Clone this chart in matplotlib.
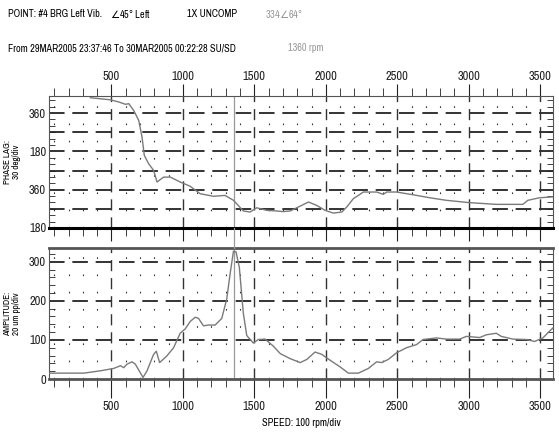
import numpy as np
import matplotlib.pyplot as plt
from matplotlib.ticker import MultipleLocator, FixedLocator

plt.rcParams['font.family'] = ['Archivo Narrow', 'Liberation Sans', 'DejaVu Sans']

# Phase lag (unwrapped deg, axis labels wrap 180/360)
phase_rpm = [353, 493, 551, 598, 621, 656, 691, 714, 730, 760, 795, 819, 865, 912, 981,
             1051, 1121, 1214, 1295, 1354, 1423, 1470, 1516, 1586, 1656, 1700, 1751, 1809,
             1879, 1937, 1995, 2053, 2112, 2147, 2193, 2228, 2262, 2356, 2402, 2426, 2495,
             2611, 2728, 2844, 3007, 3193, 3379, 3414, 3495, 3588]
phase_deg = [792, 782, 772, 761, 764, 732, 685, 607, 521, 482, 451, 396, 419, 419, 396,
             376, 341, 329, 333, 310, 260, 255, 275, 263, 260, 257, 260, 279,
             302, 286, 263, 250, 255, 279, 318, 333, 349, 349, 338, 349, 349,
             336, 322, 310, 299, 291, 291, 310, 322, 326]

# Amplitude (um pp)
amp_rpm = [67, 307, 423, 516, 563, 586, 609, 644, 667, 721, 749, 795, 814, 837, 888, 935,
           981, 1016, 1051, 1086, 1109, 1144, 1179, 1226, 1272, 1307, 1330, 1354, 1372,
           1395, 1423, 1447, 1493, 1528, 1575, 1633, 1681, 1751, 1821, 1867, 1925, 1972,
           2030, 2100, 2158, 2228, 2298, 2356, 2391, 2437, 2495, 2565, 2635, 2681, 2775,
           2844, 2937, 2984, 3077, 3123, 3193, 3228, 3310, 3403, 3461, 3519, 3565, 3600]
amp_val = [15, 15, 21, 27, 34, 29, 38, 44, 38, 4, 21, 63, 71, 42, 59, 80,
           117, 128, 147, 158, 155, 136, 138, 138, 155, 205, 268, 327, 325,
           285, 168, 111, 92, 101, 102, 84, 65, 52, 42, 50, 69, 63,
           48, 31, 15, 15, 27, 44, 42, 50, 67, 80, 88, 101, 105,
           102, 102, 109, 106, 113, 117, 109, 102, 101, 96, 105, 122, 134]

cursor_rpm = 1360
phase_ticks = [180, 360, 540, 720]
phase_labels = ['180', '360', '180', '360']
x_ticks = [500, 1000, 1500, 2000, 2500, 3000, 3500]

fig = plt.figure(figsize=(5.59, 4.34), dpi=100)
W, H = 559, 434
left, right = 49 / W, 553 / W
ax1 = fig.add_axes([left, 1 - 228 / H, right - left, (228 - 96) / H])
ax2 = fig.add_axes([left, 1 - 379 / H, right - left, (379 - 248) / H])

xlim = (63, 3590)
line_col = '#7a7a7a'

for ax in (ax1, ax2):
    ax.set_xlim(*xlim)
    ax.xaxis.set_major_locator(FixedLocator(x_ticks))
    ax.xaxis.set_minor_locator(MultipleLocator(100))
    for x in range(100, 3600, 100):
        if x % 500 == 0:
            ax.axvline(x, color='#333333', lw=1.0, ls=(0, (8, 5)), zorder=1)
        else:
            ax.axvline(x, color='#333333', lw=0.8, ls=(0, (1.5, 14)), zorder=1)
    ax.tick_params(axis='both', which='both', labelsize=9, colors='#222222')
    ax.tick_params(axis='y', which='both', direction='in', right=True, length=4)
    ax.tick_params(axis='y', which='major', length=0, pad=2)
    ax.axvline(cursor_rpm, color='#999999', lw=0.9, zorder=2)
    for s in ax.spines.values():
        s.set_color('#555555')

# phase panel
ax1.set_ylim(180, 800)
ax1.yaxis.set_major_locator(FixedLocator(phase_ticks))
ax1.set_yticklabels(phase_labels)
ax1.yaxis.set_minor_locator(MultipleLocator(30))
for y in range(270, 800, 90):
    ax1.axhline(y, color='#333333', lw=1.4, ls=(0, (8, 4)), zorder=1)
ax1.plot(phase_rpm, phase_deg, color=line_col, lw=1.0, zorder=3)
ax1.tick_params(axis='x', which='both', top=True, bottom=True, labeltop=True,
                labelbottom=False, direction='out')
ax1.tick_params(axis='x', which='major', length=9, pad=1)
ax1.tick_params(axis='x', which='minor', length=6)
ax1.spines['bottom'].set_linewidth(2.2)
ax1.spines['bottom'].set_color('black')
ax1.set_ylabel('PHASE LAG:\n30 deg/div', fontsize=6.5, fontweight='bold',
               linespacing=0.9, labelpad=6)

# amplitude panel
ax2.set_ylim(0, 335)
ax2.yaxis.set_major_locator(FixedLocator([0, 100, 200, 300]))
ax2.yaxis.set_minor_locator(MultipleLocator(20))
for y in [100, 200, 300]:
    ax2.axhline(y, color='#333333', lw=1.4, ls=(0, (8, 4)), zorder=1)
ax2.plot(amp_rpm, amp_val, color=line_col, lw=1.0, zorder=3)
ax2.tick_params(axis='x', which='both', top=False, bottom=True, direction='out')
ax2.tick_params(axis='x', which='major', length=14, pad=2)
ax2.tick_params(axis='x', which='minor', length=6)
ax2.spines['top'].set_linewidth(2.0)
ax2.spines['bottom'].set_linewidth(2.0)
ax2.set_ylabel('AMPLITUDE:\n20 um pp/div', fontsize=6.5, fontweight='bold',
               linespacing=0.9, labelpad=6)
ax2.set_xlabel('SPEED: 100 rpm/div', fontsize=7.5, labelpad=4)

# cursor between panels
xc = left + (cursor_rpm - xlim[0]) / (xlim[1] - xlim[0]) * (right - left)
fig.add_artist(plt.Line2D([xc, xc], [1 - 248 / H, 1 - 228 / H], color='#999999', lw=0.9))

# header text
fs = 7.4
fig.text(8 / W, 1 - 14 / H, 'POINT: #4 BRG Left Vib.', fontsize=fs, va='center')
fig.text(110 / W, 1 - 14 / H, '$\\angle$45\u00b0 Left', fontsize=fs, va='center')
fig.text(187 / W, 1 - 14 / H, '1X UNCOMP', fontsize=fs, va='center')
fig.text(265 / W, 1 - 14 / H, '334$\\angle$64\u00b0', fontsize=fs, va='center', color='#999999')
fig.text(8 / W, 1 - 48 / H, 'From 29MAR2005 23:37:46 To 30MAR2005 00:22:28 SU/SD',
         fontsize=fs, va='center')
fig.text(288 / W, 1 - 48 / H, '1360 rpm', fontsize=fs, va='center', color='#999999')

fig.savefig('out.png', dpi=100)
